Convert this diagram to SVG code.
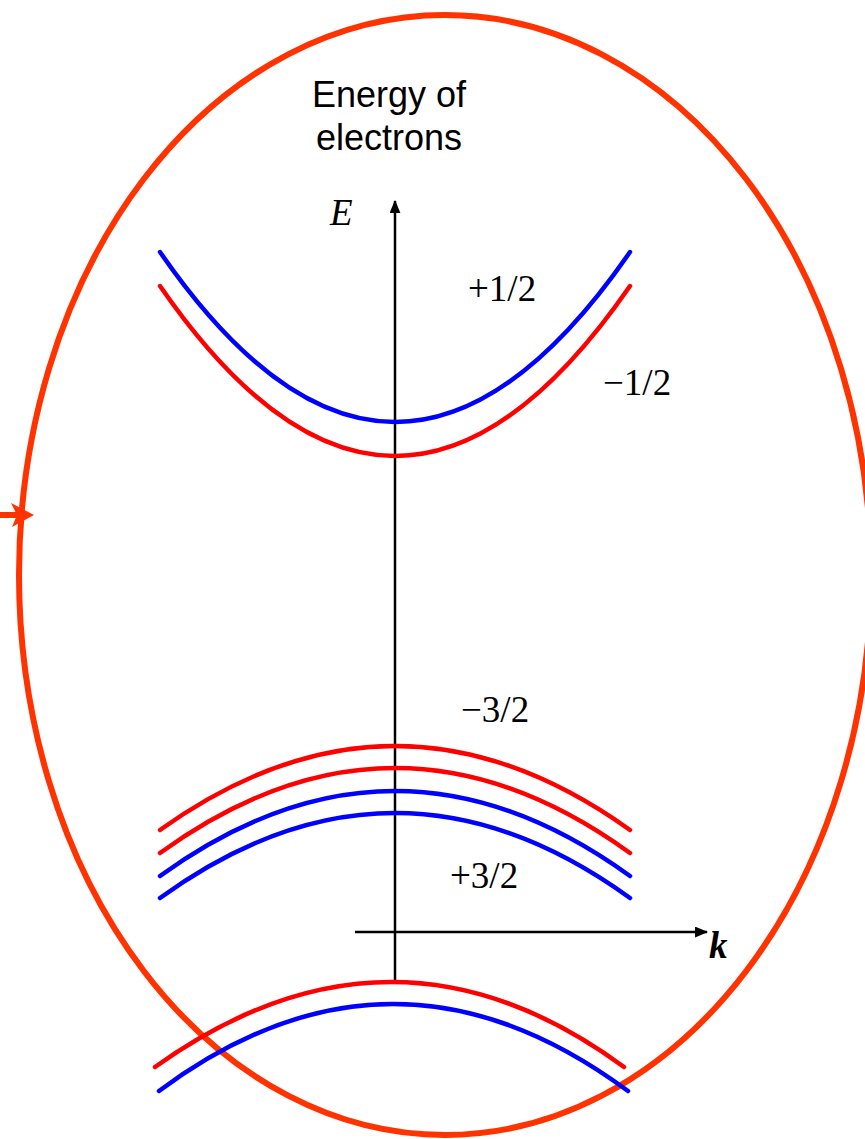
<svg xmlns="http://www.w3.org/2000/svg" width="865" height="1139" viewBox="0 0 865 1139">
<style>
.band{fill:none;stroke-width:4.5;stroke-linecap:round}
.red{stroke:#FF0000}
.blue{stroke:#0000FF}
.axis{stroke:#000;stroke-width:2.5;fill:none}
.lbl{font-family:"Liberation Serif",serif;font-size:37px;fill:#000}
.title{font-family:"Liberation Sans",Arial,sans-serif;font-size:36px;fill:#000;text-anchor:middle}
</style>
<defs>
<marker id="ah" viewBox="0 0 12 10" refX="11" refY="5" markerWidth="13" markerHeight="11" orient="auto" markerUnits="userSpaceOnUse">
<path d="M0,0 L12,5 L0,10 z" fill="#000"/>
</marker>
</defs>
<g id="loop">
<ellipse cx="445" cy="575" rx="426" ry="560" fill="none" stroke="#FF3300" stroke-width="6"/>
<line x1="0" y1="515" x2="20" y2="515" stroke="#FF3300" stroke-width="6"/>
<path d="M11,503 L34,515 L12,527 L17,515 z" fill="#FF3300"/>
</g>
<g id="title">
<text class="title" x="389" y="107">Energy of</text>
<text class="title" x="389" y="150">electrons</text>
</g>
<g id="connectors">
<line class="axis" x1="395" y1="981" x2="395" y2="201" marker-end="url(#ah)"/>
<line class="axis" x1="355" y1="932" x2="707" y2="932" marker-end="url(#ah)"/>
</g>
<g id="conduction">
<path class="band blue" d="M160,252 Q395,592 630,252"/>
<path class="band red" d="M160,286 Q395,626 630,286"/>
</g>
<g id="valence">
<path class="band red" d="M160,830 Q395,662 630,830"/>
<path class="band red" d="M160,853 Q395,683 630,853"/>
<path class="band blue" d="M160,876 Q395,706 630,876"/>
<path class="band blue" d="M160,898 Q395,728 630,898"/>
</g>
<g id="splitoff">
<path class="band red" d="M155,1067 Q393,897 624,1067"/>
<path class="band blue" d="M159,1091 Q393,917 628,1091"/>
</g>
<g id="labels">
<text class="lbl" x="330" y="225" font-style="italic" font-size="28">E</text>
<text class="lbl" x="468" y="301">+1/2</text>
<text class="lbl" x="603" y="395">−1/2</text>
<text class="lbl" x="461" y="722">−3/2</text>
<text class="lbl" x="450" y="888">+3/2</text>
<text class="lbl" x="709" y="958" font-style="italic" font-weight="bold" font-size="32">k</text>
</g>
</svg>
